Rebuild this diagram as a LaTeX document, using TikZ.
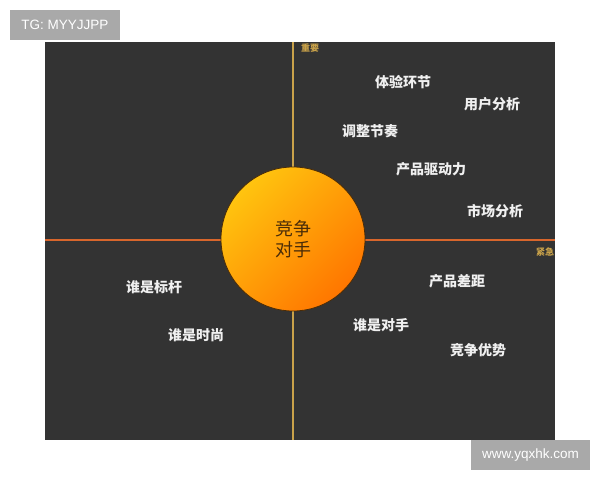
\documentclass[tikz,border=0pt]{standalone}
\usepackage{fontspec}
\setmainfont{Noto Sans CJK SC}
\newfontfamily\latinfont{Liberation Sans}
\usepackage{xcolor}
\usetikzlibrary{positioning}
\definecolor{panel}{HTML}{333333}
\definecolor{gold}{HTML}{C9A24A}
\definecolor{axisorange}{HTML}{D8662C}
\definecolor{wmgray}{HTML}{A9A9A9}
\definecolor{sunA}{HTML}{FFC40F}
\definecolor{sunB}{HTML}{FF7600}
\definecolor{corebrown}{HTML}{4A2C08}

\begin{document}
\begin{tikzpicture}[x=1pt, y=-1pt,
  lbl/.style={text=white!94!black, font=\bfseries\fontsize{14}{15}\selectfont, inner sep=0pt},
  axislbl/.style={text=gold, font=\bfseries\fontsize{9}{10}\selectfont, inner sep=0pt},
  wmark/.style={fill=wmgray, text=white, font=\latinfont\fontsize{13.5}{14}\selectfont, minimum height=30pt, inner sep=0pt}]
 \useasboundingbox (0,0) rectangle (600,480);
 \fill[white] (0,0) rectangle (600,480);
 \fill[panel] (45,42) rectangle (555,440);

 %axes
 \coordinate (top) at (293,42);
 \coordinate (bot) at (293,440);
 \coordinate (lft) at (45,240);
 \coordinate (rgt) at (555,240);
 \draw[gold, line width=1.3pt] (top)--(bot);
 \draw[axisorange, line width=1.3pt] (lft)--(rgt);
 \node[axislbl] (imp) at (310,48) {重要};
 \node[axislbl] (urg) at (545,252) {紧急};

 %centre ball
 \node[circle, minimum size=144pt, draw=corebrown, line width=0.8pt,
   shading=axis, top color=sunA, bottom color=sunB, shading angle=45,
   text=corebrown, align=center, font=\fontsize{18}{21}\selectfont] (rival) at (293,239) {竞争\\对手};

 %quadrant labels
 \node[lbl] (exp) at (403,82) {体验环节};
 \node[lbl] (user) at (492,104) {用户分析};
 \node[lbl] (pace) at (370,131) {调整节奏};
 \node[lbl] (drive) at (431,169) {产品驱动力};
 \node[lbl] (market) at (495,211) {市场分析};
 \node[lbl] (gap) at (457,281) {产品差距};
 \node[lbl] (who) at (381,325) {谁是对手};
 \node[lbl] (edge) at (478,350) {竞争优势};
 \node[lbl] (bench) at (154,287) {谁是标杆};
 \node[lbl] (trend) at (196,335) {谁是时尚};

 %watermarks
 \node[wmark, minimum width=110pt] (tg) at (65,25) {TG: MYYJJPP};
 \node[wmark, minimum width=119pt] (site) at (530.5,455) {www.yqxhk.com};
\end{tikzpicture}
\end{document}
